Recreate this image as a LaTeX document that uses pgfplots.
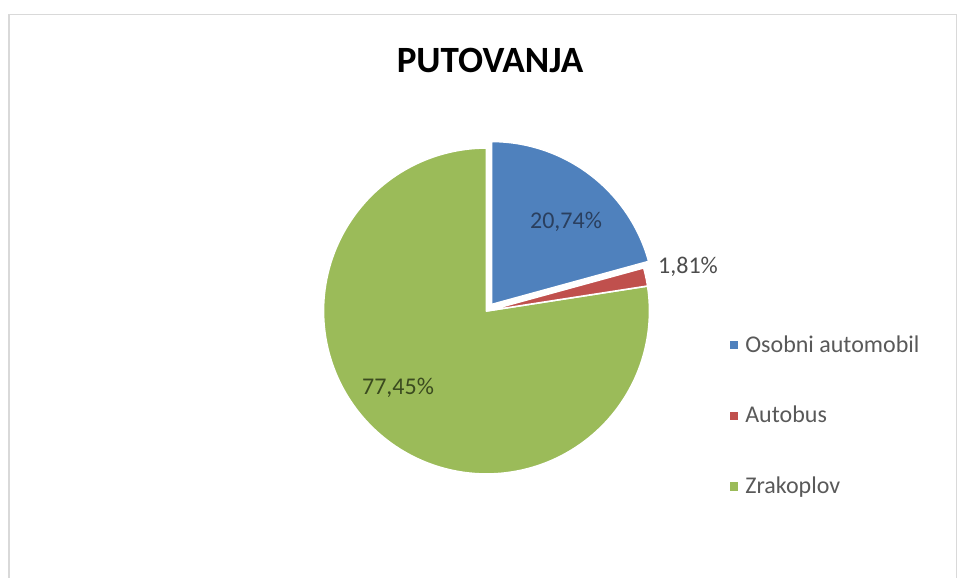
\documentclass[border=0pt]{standalone}
\usepackage{pgfplots}
\pgfplotsset{compat=1.18}
\usepackage{pgfplotstable}
\usepackage{fontspec}
\setmainfont{Carlito}
\definecolor{cBlue}{HTML}{4F81BD}
\definecolor{cRed}{HTML}{C0504D}
\definecolor{cGreen}{HTML}{9BBB59}
\definecolor{cText}{HTML}{595959}
\definecolor{cBlueLbl}{HTML}{2A3F5E}
\definecolor{cGreenLbl}{HTML}{3A4A1F}
\definecolor{cBorder}{HTML}{D9D9D9}

\pgfplotstableread{
label value
Osobni 20.74
Autobus 1.81
Zrakoplov 77.45
}\piedata

\begin{document}
\begin{tikzpicture}
\pgfplotstablegetelem{0}{value}\of\piedata \let\vA\pgfplotsretval
\pgfplotstablegetelem{1}{value}\of\piedata \let\vB\pgfplotsretval
\pgfplotstablegetelem{2}{value}\of\piedata \let\vC\pgfplotsretval
\pgfmathsetmacro{\aZero}{90}
\pgfmathsetmacro{\aOne}{\aZero-3.6*\vA}
\pgfmathsetmacro{\aTwo}{\aOne-3.6*\vB}
\pgfmathsetmacro{\aThree}{\aTwo-3.6*\vC}
\def\R{163}
\begin{axis}[
  width=718.5pt, height=433.5pt, scale only axis,
  xmin=0, xmax=958, ymin=0, ymax=578,
  hide axis, clip=false,
  legend style={at={(axis cs:726,248)}, anchor=north west, draw=none, fill=none,
    font=\fontsize{18}{21}\selectfont, text=cText, row sep=35pt,
    nodes={inner xsep=5.5pt}},
  legend cell align=left,
  legend image code/.code={\fill[#1] (0pt,-2.7pt) rectangle (5.4pt,2.7pt);},
]
\path (axis cs:0,0) rectangle (axis cs:958,578);
% border
\draw[cBorder, line width=0.9pt] (axis cs:9,0) -- (axis cs:9,563.5) -- (axis cs:956.5,563.5) -- (axis cs:956.5,0);
% wedges
\addplot[fill=cGreen, draw=white, line width=1.2pt, line join=round, domain=\aThree:\aTwo, samples=150, variable=\t, forget plot]
  ({486.5+\R*cos(\t)},{267+\R*sin(\t)}) -- (axis cs:486.5,267) -- cycle;
\addplot[fill=cRed, draw=white, line width=1.2pt, line join=round, domain=\aTwo:\aOne, samples=10, variable=\t, forget plot]
  ({486.5+\R*cos(\t)},{267+\R*sin(\t)}) -- (axis cs:486.5,267) -- cycle;
\addplot[fill=cBlue, draw=white, line width=1.2pt, line join=round, domain=\aOne:\aZero, samples=60, variable=\t, forget plot]
  ({491.5+\R*cos(\t)},{273.5+\R*sin(\t)}) -- (axis cs:491.5,273.5) -- cycle;
% legend
\addlegendimage{cBlue}
\addlegendentry{Osobni automobil}
\addlegendimage{cRed}
\addlegendentry{Autobus}
\addlegendimage{cGreen}
\addlegendentry{Zrakoplov}
% title
\node[font=\fontsize{27.8}{32}\selectfont\bfseries] at (axis cs:490,518) {PUTOVANJA};
% data labels
\node[font=\fontsize{18}{21}\selectfont, text=cBlueLbl] at (axis cs:566,356) {20,74\%};
\node[font=\fontsize{18}{21}\selectfont, text=cText!85!black] at (axis cs:688,311) {1,81\%};
\node[font=\fontsize{18}{21}\selectfont, text=cGreenLbl] at (axis cs:398,190) {77,45\%};
\end{axis}
\end{tikzpicture}
\end{document}
